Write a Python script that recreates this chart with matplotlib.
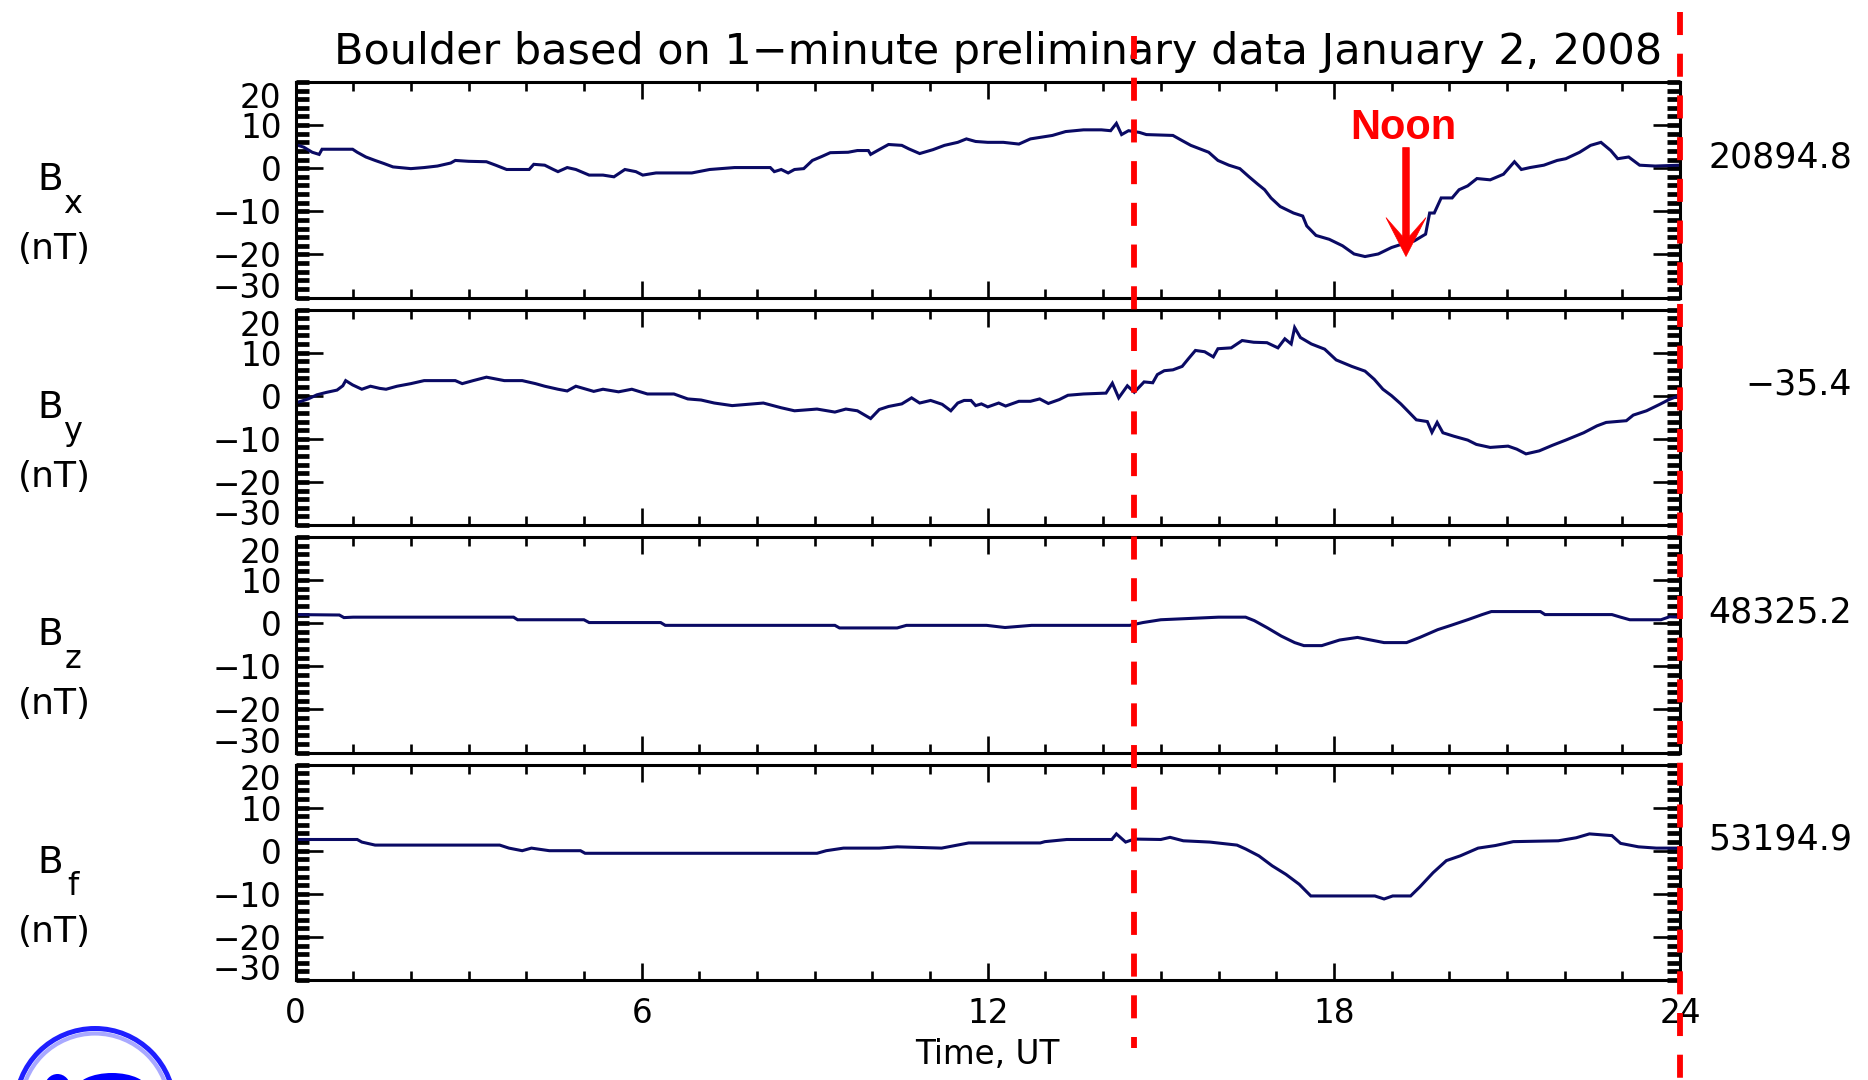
import matplotlib
matplotlib.use("Agg")
import matplotlib.pyplot as plt
import matplotlib.transforms as mtransforms
from matplotlib.lines import Line2D
from matplotlib.patches import Polygon, Circle, Ellipse
from matplotlib.ticker import MultipleLocator

# ---------------- data ----------------
title = "Boulder based on 1\u2212minute preliminary data January 2, 2008"
components = ["x", "y", "z", "f"]
baselines = ["20894.8", "\u221235.4", "48325.2", "53194.9"]

bx_hours = [0.0, 0.14, 0.29, 0.41, 0.46, 0.68, 0.99, 1.07, 1.22, 1.38, 1.53, 1.69, 2.0, 2.23,
            2.46, 2.69, 2.77, 3.0, 3.31, 3.47, 3.66, 4.05, 4.13, 4.32, 4.47, 4.55, 4.71, 4.86,
            5.09, 5.33, 5.52, 5.71, 5.9, 6.02, 6.25, 6.87, 7.18, 7.61, 8.23, 8.3, 8.42, 8.54,
            8.65, 8.81, 8.96, 9.12, 9.27, 9.58, 9.74, 9.93, 9.97, 10.09, 10.28, 10.51, 10.63,
            10.82, 11.05, 11.25, 11.48, 11.63, 11.79, 12.0, 12.27, 12.54, 12.74, 13.12, 13.35,
            13.66, 13.97, 14.13, 14.23, 14.32, 14.44, 14.63, 14.75, 15.21, 15.37, 15.52, 15.83,
            15.99, 16.18, 16.37, 16.53, 16.68, 16.8, 16.91, 17.07, 17.3, 17.46, 17.53, 17.69,
            17.92, 18.15, 18.35, 18.54, 18.77, 19.0, 19.23, 19.39, 19.59, 19.66, 19.74, 19.86,
            20.05, 20.17, 20.32, 20.48, 20.71, 20.94, 21.13, 21.25, 21.4, 21.64, 21.87, 22.02,
            22.26, 22.45, 22.63, 22.8, 22.92, 23.11, 23.3, 23.57, 24.0]
bx_vals = [5.5, 4.9, 3.7, 3.2, 4.4, 4.4, 4.4, 3.7, 2.6, 1.8, 1.1, 0.3, -0.1, 0.15,
           0.5, 1.2, 1.8, 1.6, 1.5, 0.7, -0.3, -0.3, 0.9, 0.7, -0.3, -0.8, 0.15, -0.3,
           -1.6, -1.6, -2.0, -0.3, -0.8, -1.6, -1.1, -1.1, -0.3, 0.15, 0.15, -0.8, -0.3, -1.1,
           -0.3, -0.1, 1.8, 2.7, 3.6, 3.7, 4.1, 4.1, 3.2, 4.1, 5.5, 5.3, 4.5,
           3.4, 4.3, 5.3, 6.0, 6.8, 6.2, 6.0, 6.0, 5.6, 6.8, 7.6, 8.5,
           8.9, 8.9, 8.7, 10.4, 7.8, 8.7, 8.3, 7.8, 7.6, 6.4, 5.3, 3.7,
           1.8, 0.7, -0.1, -2.0, -3.7, -5.0, -6.9, -8.9, -10.4, -11.1, -13.4, -15.6,
           -16.5, -18.0, -19.9, -20.5, -19.9, -18.4, -17.4, -16.9, -15.3, -10.4, -10.4, -6.9,
           -6.9, -5.0, -4.1, -2.4, -2.7, -1.4, 1.5, -0.3, 0.15, 0.7, 1.8, 2.2,
           3.7, 5.3, 6.0, 4.1, 2.2, 2.6, 0.7, 0.5, 0.7]

by_hours = [0.0, 0.22, 0.37, 0.53, 0.72, 0.82, 0.87, 0.99, 1.15, 1.3, 1.46, 1.57, 1.76, 2.0,
            2.23, 2.77, 2.89, 3.08, 3.31, 3.62, 3.93, 4.16, 4.32, 4.55, 4.71, 4.86, 5.17, 5.33,
            5.6, 5.83, 6.1, 6.56, 6.8, 7.03, 7.26, 7.57, 8.11, 8.42, 8.65, 9.04, 9.35, 9.54,
            9.74, 9.97, 10.12, 10.28, 10.51, 10.68, 10.82, 11.01, 11.21, 11.36, 11.48, 11.59,
            11.71, 11.79, 11.89, 12.0, 12.19, 12.31, 12.54, 12.74, 12.9, 13.05, 13.24, 13.39,
            13.66, 14.05, 14.16, 14.27, 14.42, 14.54, 14.71, 14.86, 14.94, 15.06, 15.21, 15.37,
            15.48, 15.6, 15.76, 15.91, 15.99, 16.22, 16.41, 16.61, 16.84, 17.03, 17.15, 17.26,
            17.32, 17.42, 17.61, 17.84, 18.04, 18.31, 18.54, 18.7, 18.85, 19.0, 19.16, 19.27,
            19.43, 19.62, 19.7, 19.79, 19.89, 20.08, 20.32, 20.47, 20.71, 21.02, 21.17, 21.33,
            21.56, 21.79, 22.02, 22.33, 22.56, 22.72, 23.07, 23.19, 23.42, 23.65, 23.81, 24.0]
by_vals = [-1.7, -0.75, 0.2, 0.75, 1.3, 2.3, 3.5, 2.5, 1.5, 2.2, 1.7, 1.5, 2.2, 2.8,
           3.5, 3.5, 2.8, 3.5, 4.3, 3.5, 3.5, 2.8, 2.2, 1.5, 1.1, 2.2, 1.0, 1.5,
           0.9, 1.5, 0.4, 0.4, -0.75, -1.0, -1.7, -2.3, -1.7, -2.8, -3.5, -3.1, -3.8, -3.1,
           -3.5, -5.3, -3.2, -2.5, -1.9, -0.5, -1.7, -1.1, -2.0, -3.5, -1.7, -1.1,
           -1.1, -2.3, -1.9, -2.6, -1.7, -2.4, -1.3, -1.3, -0.75, -1.8, -0.9, 0.1,
           0.4, 0.6, 2.9, -0.5, 2.3, 0.8, 3.2, 3.0, 4.9, 5.8, 6.0, 6.8,
           8.6, 10.5, 10.2, 9.0, 10.9, 11.1, 12.8, 12.4, 12.3, 11.1, 13.2, 12.0,
           15.8, 13.5, 12.0, 10.8, 8.3, 6.8, 5.7, 3.8, 1.5, 0.0, -1.9, -3.4,
           -5.6, -6.0, -8.5, -6.2, -8.6, -9.4, -10.3, -11.3, -12.0, -11.7, -12.4, -13.5,
           -12.8, -11.5, -10.3, -8.6, -7.0, -6.2, -5.8, -4.5, -3.5, -2.0, -0.9, 0.1]

bz_hours = [0.0, 0.76, 0.84, 1.0, 3.78, 3.85, 5.0, 5.09, 6.33, 6.41, 9.35, 9.43, 10.43, 10.59,
            11.98, 12.3, 12.76, 14.46, 14.69, 15.0, 16.0, 16.47, 16.62, 16.85, 17.09, 17.32,
            17.48, 17.79, 18.1, 18.41, 18.64, 18.87, 19.26, 19.49, 19.8, 20.03, 20.34, 20.57,
            20.73, 21.58, 21.66, 22.82, 22.97, 23.13, 23.67, 23.82, 24.0]
bz_vals = [2.0, 1.9, 1.3, 1.4, 1.4, 0.8, 0.8, 0.15, 0.15, -0.5, -0.5, -1.1, -1.1, -0.5,
           -0.5, -1.0, -0.5, -0.5, 0.15, 0.8, 1.4, 1.4, 0.6, -1.1, -3.0, -4.5,
           -5.2, -5.2, -3.9, -3.3, -3.9, -4.5, -4.5, -3.3, -1.5, -0.5, 0.9, 2.0,
           2.7, 2.7, 2.0, 2.0, 1.4, 0.8, 0.8, 1.5, 1.4]

bf_hours = [0.0, 0.03, 1.07, 1.15, 1.38, 3.54, 3.7, 3.93, 4.09, 4.4, 4.94, 5.02, 9.04, 9.2,
            9.5, 10.12, 10.43, 11.2, 11.67, 12.91, 12.99, 13.37, 14.15, 14.23, 14.39, 14.54,
            15.0, 15.16, 15.39, 15.85, 16.32, 16.47, 16.7, 16.93, 17.17, 17.4, 17.6, 18.17,
            18.71, 18.87, 19.02, 19.33, 19.49, 19.72, 19.95, 20.19, 20.5, 20.8, 21.11, 21.89,
            22.2, 22.43, 22.82, 22.97, 23.28, 23.59, 24.0]
bf_vals = [3.0, 2.6, 2.6, 2.0, 1.3, 1.3, 0.6, 0.0, 0.6, 0.0, 0.0, -0.6, -0.6, 0.0,
           0.6, 0.6, 0.9, 0.6, 1.8, 1.8, 2.1, 2.6, 2.6, 3.9, 2.0, 2.7,
           2.6, 3.1, 2.3, 2.0, 1.3, 0.4, -1.2, -3.5, -5.5, -7.8, -10.5, -10.5,
           -10.5, -11.2, -10.5, -10.5, -8.4, -5.1, -2.3, -1.2, 0.6, 1.2, 2.1, 2.3,
           3.0, 3.9, 3.5, 1.7, 0.9, 0.6, 0.6]

x_major = [0, 6, 12, 18, 24]
x_labels = ["0", "6", "12", "18", "24"]
y_major = [20, 10, 0, -10, -20, -30]
y_labels = ["20", "10", "0", "\u221210", "\u221220", "\u221230"]
x_label = "Time, UT"

# annotation positions (hours / nT)
red_line_hours = [14.535, 24.0]
noon_text_pos = (19.2, 9.4)
noon_tip = (19.25, -20.5)

series = [(bx_hours, bx_vals), (by_hours, by_vals), (bz_hours, bz_vals), (bf_hours, bf_vals)]

# ---------------- figure ----------------
W, H = 1868, 1080
fig = plt.figure(figsize=(W / 100, H / 100), dpi=100)
fig.patch.set_facecolor("white")

LINE_COLOR = "#0a0a64"
RED = "#ff0000"
FONT = "DejaVu Sans"
TICK_FS = 23.5
left_px, right_px = 295.5, 1680.0
top0, pitch, height = 82.0, 227.5, 215.5

axes = []
for i, ((hrs, vals), comp, base) in enumerate(zip(series, components, baselines)):
    top = top0 + pitch * i
    ax = fig.add_axes([left_px / W, 1 - (top + height) / H, (right_px - left_px) / W, height / H])
    axes.append(ax)
    ax.plot(hrs, vals, color=LINE_COLOR, lw=2.2, solid_joinstyle="miter")
    ax.set_xlim(0, 24)
    ax.set_ylim(-30, 20)
    ax.set_xticks(x_major)
    ax.xaxis.set_minor_locator(MultipleLocator(1))
    ax.set_yticks(y_major)
    ax.set_yticklabels(y_labels, fontsize=TICK_FS, family=FONT)
    ax.yaxis.set_minor_locator(MultipleLocator(2))
    ax.yaxis.remove_overlapping_locs = False
    ax.tick_params(axis="both", which="both", direction="in", top=True, right=True, color="black")
    ax.tick_params(axis="x", which="major", length=12.5, width=1.9)
    ax.tick_params(axis="x", which="minor", length=6.5, width=1.9)
    ax.tick_params(axis="y", which="major", length=19.5, width=1.9, pad=10)
    ax.tick_params(axis="y", which="minor", length=9.4, width=3.4)
    for sp in ax.spines.values():
        sp.set_linewidth(2.2)
    labs = ax.get_yticklabels()
    labs[0].set_va("top")
    labs[-1].set_va("baseline")
    if i < 3:
        ax.tick_params(axis="x", labelbottom=False)
    else:
        ax.set_xticklabels(x_labels, fontsize=TICK_FS, family=FONT)
        ax.tick_params(axis="x", which="major", pad=12.5)
        ax.set_xlabel(x_label, fontsize=TICK_FS, family=FONT, va="center")
        ax.xaxis.set_label_coords(0.5, -0.345)
    # left labels
    ax.text(-0.1773, 0.545, "B", transform=ax.transAxes, ha="center", va="center",
            fontsize=27, family=FONT)
    ax.text(-0.161, 0.432, comp, transform=ax.transAxes, ha="center", va="center",
            fontsize=23, family=FONT)
    ax.text(-0.1744, 0.225, "(nT)", transform=ax.transAxes, ha="center", va="center",
            fontsize=26, family=FONT)
    # baseline value at right
    ax.text(1.1242, 0.65, base, transform=ax.transAxes, ha="right", va="center",
            fontsize=25, family=FONT)

# title
fig.text(997.7 / W, 1 - 52 / H, title, ha="center", va="center", fontsize=31, family=FONT)

# red dashed marker lines (x in hours, y in figure)
blend = mtransforms.blended_transform_factory(axes[0].transData, fig.transFigure)
for xh, ytop, ybot in zip(red_line_hours, [36, 12], [1048, 1080]):
    fig.add_artist(Line2D([xh, xh], [1 - ytop / H, 1 - ybot / H], transform=blend,
                          color=RED, lw=4.2, linestyle=(0, (3.95, 3.2)),
                          dash_capstyle="butt", zorder=10))

# Noon annotation
ax1 = axes[0]
ax1.text(noon_text_pos[0], noon_text_pos[1], "Noon", color=RED, fontsize=30, fontweight="bold",
         family="Liberation Sans", ha="center", va="center", zorder=12)
arrow_px = [(0, 0), (-20, 39), (-3.3, 20), (-3.3, 109), (3.3, 109), (3.3, 20), (20, 39)]
arrow_in = [(x / 100.0, y / 100.0) for x, y in arrow_px]
tr = fig.dpi_scale_trans + mtransforms.ScaledTranslation(noon_tip[0], noon_tip[1], ax1.transData)
ax1.add_patch(Polygon(arrow_in, closed=True, transform=tr, facecolor=RED, edgecolor=RED,
                      lw=0.5, clip_on=False, zorder=12))

# partial NOAA-like logo at bottom-left (decoration)
logo_tr = fig.dpi_scale_trans
fig.add_artist(Circle((0.95, -0.28), 0.795, transform=logo_tr, fill=False,
                      edgecolor="#1f1fff", lw=3.6, zorder=5))
fig.add_artist(Circle((0.95, -0.28), 0.745, transform=logo_tr, fill=False,
                      edgecolor="#a9a9ff", lw=3.0, zorder=5))
fig.add_artist(Ellipse((0.575, -0.08), 0.26, 0.28, transform=logo_tr,
                       facecolor="#0000ff", edgecolor="none", zorder=5))
fig.add_artist(Ellipse((1.12, -0.10), 0.72, 0.34, transform=logo_tr,
                       facecolor="#0000ff", edgecolor="none", zorder=5))

fig.savefig("out.png", dpi=100, facecolor="white")
